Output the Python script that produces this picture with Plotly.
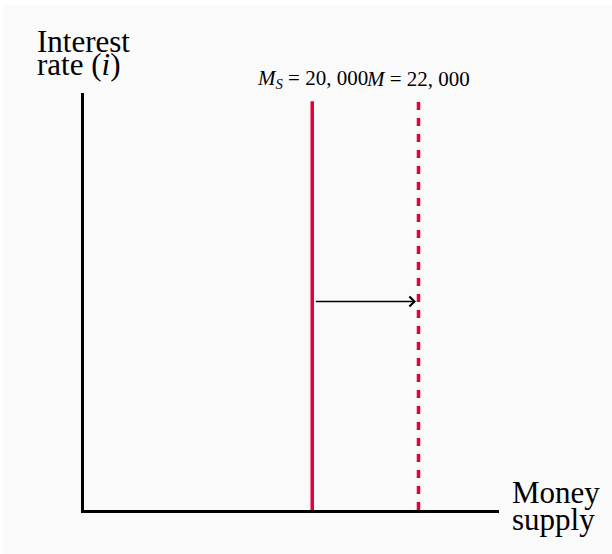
import plotly.graph_objects as go

# ---- data (conceptual axis units, 0-10) ----
x_range = [0, 10]
y_range = [0, 10]
supply_x = [5.5, 8.06]          # initial and new money supply positions
supply_top = 9.8
supply_labels = ["<i>M<sub>S</sub></i> = 20, 000", "<i>M</i> = 22, 000"]
supply_dash = ["solid", "8px,8px"]
arrow_y = 5.0
arrow_tail_x = 5.55
arrow_head_x = 8.0
y_title_lines = ["Interest", "rate (<i>i</i>)"]
x_title_lines = ["Money", "supply"]

RED = "#e4003b"
FONT = "Liberation Serif, Times New Roman, serif"

# page offset of the figure (body margin set below)
OX, OY = 3, 5
W, H = 612 - OX, 554 - OY
# plot area in screen pixels
PX0, PX1, PY0, PY1 = 84, 499, 93, 510
L, R = PX0 - OX, W - (PX1 - OX)
T, B = PY0 - OY, H - (PY1 - OY)
PW, PH = PX1 - PX0, PY1 - PY0


def px_x(p):
    return (p - PX0) / PW


def px_y(p):
    return (PY1 - p) / PH


fig = go.Figure()

for xv, dash in zip(supply_x, supply_dash):
    fig.add_trace(go.Scatter(
        x=[xv, xv], y=[0, supply_top], mode="lines",
        line=dict(color=RED, width=3.5, dash=dash),
        hoverinfo="skip", showlegend=False,
    ))

annotations = []
for xv, lab in zip(supply_x, supply_labels):
    annotations.append(dict(
        x=xv, xref="x", y=px_y(79), yref="paper",
        text=lab, showarrow=False, xanchor="center", yanchor="middle",
        font=dict(family=FONT, size=21, color="black"),
    ))

# shift arrow
annotations.append(dict(
    x=arrow_head_x, y=arrow_y, xref="x", yref="y",
    ax=arrow_tail_x, ay=arrow_y, axref="x", ayref="y",
    text="", showarrow=True, arrowhead=4, arrowsize=1.3,
    arrowwidth=1.5, arrowcolor="black",
))

# axis titles
for i, t in enumerate(y_title_lines):
    annotations.append(dict(
        x=px_x(35), xref="paper", y=px_y(41 + 24 * i), yref="paper",
        text=t, showarrow=False, xanchor="left", yanchor="middle",
        font=dict(family=FONT, size=31, color="black"),
    ))
for i, t in enumerate(x_title_lines):
    annotations.append(dict(
        x=px_x(510), xref="paper", y=px_y(492 + 27 * i), yref="paper",
        text=t, showarrow=False, xanchor="left", yanchor="middle",
        font=dict(family=FONT, size=31, color="black"),
    ))

fig.update_layout(
    width=W, height=H,
    margin=dict(l=L, r=R, t=T, b=B),
    paper_bgcolor="#fafafa", plot_bgcolor="#fafafa",
    xaxis=dict(range=x_range, showgrid=False, zeroline=False,
               showticklabels=False, ticks="", showline=True,
               linecolor="black", linewidth=2.5, fixedrange=True),
    yaxis=dict(range=y_range, showgrid=False, zeroline=False,
               showticklabels=False, ticks="", showline=True,
               linecolor="black", linewidth=2.5, fixedrange=True),
    annotations=annotations,
    showlegend=False,
)

fig.write_html(
    "out.html",
    post_script="document.body.style.margin='%dpx 0 0 %dpx';"
                "document.body.style.overflow='hidden';" % (OY, OX),
)
